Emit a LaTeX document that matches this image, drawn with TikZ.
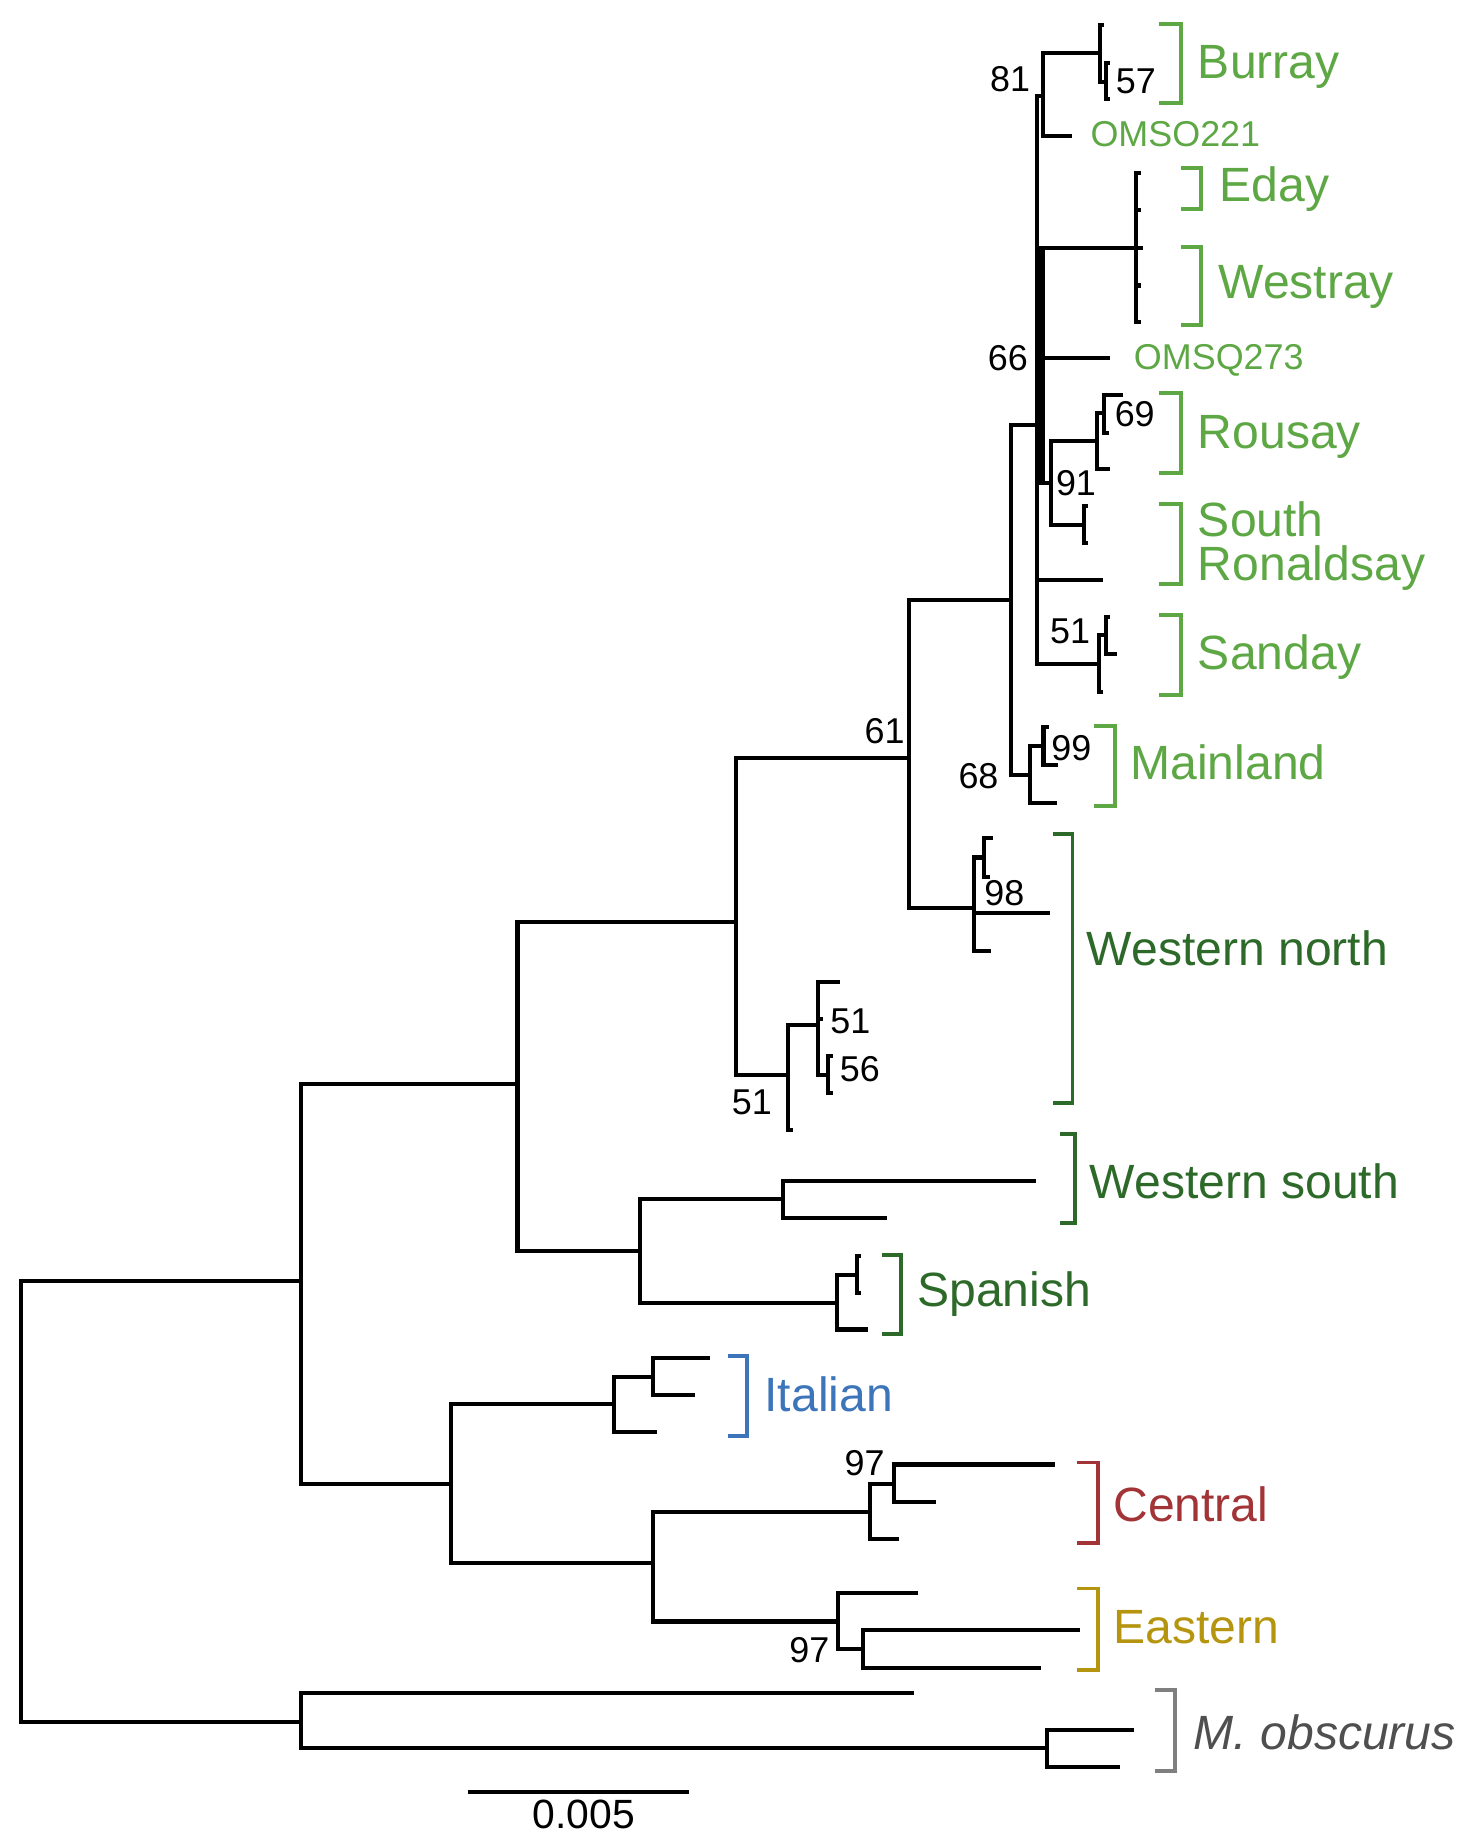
\documentclass[tikz,border=0pt]{standalone}
\usepackage{fontspec}
\setmainfont{Liberation Sans}
\usepackage{tikz}
\usetikzlibrary{positioning}

\definecolor{orkney}{HTML}{5DA744}
\definecolor{western}{HTML}{2D6A2A}
\definecolor{italian}{HTML}{3C75BA}
\definecolor{central}{HTML}{A23437}
\definecolor{eastern}{HTML}{B5950F}
\definecolor{outgrp}{HTML}{7F7F7F}
\definecolor{outtxt}{HTML}{4F4F4F}

\begin{document}
\begin{tikzpicture}[x=0.02cm,y=-0.02cm,
  branch/.style={line width=2pt},
  clade/.style={line width=1.9pt,draw=#1},
  grp/.style={anchor=base west,inner sep=0pt,font=\fontsize{23.3}{24}\selectfont,text=#1},
  tipname/.style={anchor=base west,inner sep=0pt,font=\fontsize{17.4}{18}\selectfont,text=orkney},
  boot/.style={anchor=base,inner sep=0pt,font=\fontsize{17.4}{18}\selectfont}]
\useasboundingbox (0,0) rectangle (1260,1563);

% internal nodes
\coordinate (root) at (17.8,1278);
\coordinate (A) at (256,1090.6);
\coordinate (Mob) at (256,1465.8);
\coordinate (B) at (440.5,923);
\coordinate (C) at (383.7,1263.6);
\coordinate (D) at (626.5,784.7);
\coordinate (E) at (545,1065);
\coordinate (F) at (774,645);
\coordinate (G) at (671,915);
\coordinate (H) at (861,511);
\coordinate (WN) at (829.5,773);
\coordinate (I) at (883,362);
\coordinate (ML) at (877,659.8);
\coordinate (n81) at (887.7,81.7);
\coordinate (Bur) at (936.5,44.8);
\coordinate (Bur2) at (941.3,69.5);
\coordinate (EW) at (967,211);
\coordinate (n91) at (894.8,411.5);
\coordinate (Rou) at (934,375.4);
\coordinate (Rou2) at (940,351.9);
\coordinate (SR) at (922.5,447);
\coordinate (San) at (935.5,565);
\coordinate (San2) at (941.3,540.6);
\coordinate (ML2) at (888.3,634.8);
\coordinate (WN2) at (837.7,730);
\coordinate (G2) at (696.7,872.6);
\coordinate (G3) at (704.6,915.2);
\coordinate (WS) at (666.4,1021);
\coordinate (Sp) at (712.4,1109);
\coordinate (Sp2) at (729.4,1085.7);
\coordinate (It) at (522.6,1195.5);
\coordinate (It2) at (555.7,1171.9);
\coordinate (CE) at (555.7,1330.3);
\coordinate (Ce) at (740.7,1286.8);
\coordinate (Ce2) at (760.9,1263.6);
\coordinate (Ea) at (713.2,1380.4);
\coordinate (Ea2) at (735,1404);
\coordinate (Mo2) at (891,1488.2);
\coordinate (polyTop) at (886,211);
\coordinate (polyBot) at (886,410);

% tips
\coordinate (t221) at (913,115.8);
\coordinate (t273) at (945,305);
\coordinate (tSR3) at (939,493.8);
\coordinate (tB1) at (940,21);
\coordinate (tB2) at (945,53.4);
\coordinate (tB3) at (945,84.6);
\coordinate (tE1) at (971,147.6);
\coordinate (tE2) at (971,179);
\coordinate (tE3) at (973,211);
\coordinate (tE4) at (971,243);
\coordinate (tE5) at (971,274);
\coordinate (tR1) at (956,336.3);
\coordinate (tR2) at (944,368.4);
\coordinate (tR3) at (945,399.6);
\coordinate (tS1) at (926,430.8);
\coordinate (tS2) at (926,462.6);
\coordinate (tSa1) at (945,525);
\coordinate (tSa2) at (951,556.8);
\coordinate (tSa3) at (939,588.9);
\coordinate (tM1) at (893,618.7);
\coordinate (tM2) at (900.5,651.3);
\coordinate (tM3) at (900,683.4);
\coordinate (tW1) at (845,713.7);
\coordinate (tW2) at (843,746.4);
\coordinate (tW3) at (894,777.6);
\coordinate (tW4) at (844,809.4);
\coordinate (tG1) at (715,835.8);
\coordinate (tG2) at (701,867.6);
\coordinate (tG4) at (675,962);
\coordinate (tG5) at (709,899);
\coordinate (tG6) at (709,930.8);
\coordinate (tWS1) at (882,1005.3);
\coordinate (tWS2) at (755.2,1037.1);
\coordinate (tSp1) at (733,1068.9);
\coordinate (tSp2) at (733,1100.8);
\coordinate (tSp3) at (739,1131.8);
\coordinate (tI1) at (604.2,1155.8);
\coordinate (tI2) at (591.3,1187.6);
\coordinate (tI3) at (559,1219.4);
\coordinate (tC1) at (898.2,1246.7);
\coordinate (tC2) at (797.2,1278.6);
\coordinate (tC3) at (765.7,1310.4);
\coordinate (tEa1) at (781.1,1356);
\coordinate (tEa2) at (919.2,1387.9);
\coordinate (tEa3) at (886.1,1420.1);
\coordinate (tO1) at (777.9,1441.3);
\coordinate (tO2) at (965.3,1472.5);
\coordinate (tO3) at (953.1,1504.4);

% branches
\draw[branch] (root) |- (A) (root) |- (Mob);
\draw[branch] (A) |- (B) (A) |- (C);
\draw[branch] (B) |- (D) (B) |- (E);
\draw[branch] (D) |- (F) (D) |- (G);
\draw[branch] (F) |- (H) (F) |- (WN);
\draw[branch] (H) |- (I) (H) |- (ML);
\draw[branch] (I) |- (n81) (I) |- (EW) (I) |- (t273) (I) |- (n91) (I) |- (tSR3) (I) |- (San);
\draw[line width=4.4pt] (polyTop) -- (polyBot);
\draw[branch] (n81) |- (Bur) (n81) |- (t221);
\draw[branch] (Bur) |- (tB1) (Bur) |- (Bur2);
\draw[branch] (Bur2) |- (tB2) (Bur2) |- (tB3);
\draw[branch] (EW) |- (tE1) (EW) |- (tE2) (EW) |- (tE3) (EW) |- (tE4) (EW) |- (tE5);
\draw[branch] (n91) |- (Rou) (n91) |- (SR);
\draw[branch] (Rou) |- (Rou2) (Rou) |- (tR3);
\draw[branch] (Rou2) |- (tR1) (Rou2) |- (tR2);
\draw[branch] (SR) |- (tS1) (SR) |- (tS2);
\draw[branch] (San) |- (San2) (San) |- (tSa3);
\draw[branch] (San2) |- (tSa1) (San2) |- (tSa2);
\draw[branch] (ML) |- (ML2) (ML) |- (tM3);
\draw[branch] (ML2) |- (tM1) (ML2) |- (tM2);
\draw[branch] (WN) |- (WN2) (WN) |- (tW3) (WN) |- (tW4);
\draw[branch] (WN2) |- (tW1) (WN2) |- (tW2);
\draw[branch] (G) |- (G2) (G) |- (tG4);
\draw[branch] (G2) |- (tG1) (G2) |- (tG2) (G2) |- (G3);
\draw[branch] (G3) |- (tG5) (G3) |- (tG6);
\draw[branch] (E) |- (WS) (E) |- (Sp);
\draw[branch] (WS) |- (tWS1) (WS) |- (tWS2);
\draw[branch] (Sp) |- (Sp2) (Sp) |- (tSp3);
\draw[branch] (Sp2) |- (tSp1) (Sp2) |- (tSp2);
\draw[branch] (C) |- (It) (C) |- (CE);
\draw[branch] (It) |- (It2) (It) |- (tI3);
\draw[branch] (It2) |- (tI1) (It2) |- (tI2);
\draw[branch] (CE) |- (Ce) (CE) |- (Ea);
\draw[branch] (Ce) |- (Ce2) (Ce) |- (tC3);
\draw[branch] (Ce2) |- (tC1) (Ce2) |- (tC2);
\draw[branch] (Ea) |- (tEa1) (Ea) |- (Ea2);
\draw[branch] (Ea2) |- (tEa2) (Ea2) |- (tEa3);
\draw[branch] (Mob) |- (tO1) (Mob) |- (Mo2);
\draw[branch] (Mo2) |- (tO2) (Mo2) |- (tO3);

% support values
\node[boot] (b81) at (860,77.5) {81};
\node[boot] (b57) at (967,79.5) {57};
\node[boot] (b66) at (858,315) {66};
\node[boot] (b69) at (966,363) {69};
\node[boot] (b91) at (916,421.5) {91};
\node[boot] (b51a) at (911,547.5) {51};
\node[boot] (b99) at (912,647) {99};
\node[boot] (b68) at (833,671.5) {68};
\node[boot] (b61) at (753,633) {61};
\node[boot] (b98) at (855,770.5) {98};
\node[boot] (b51b) at (724,880) {51};
\node[boot] (b56) at (732,921) {56};
\node[boot] (b51c) at (640,948.5) {51};
\node[boot] (b97a) at (736,1256) {97};
\node[boot] (b97b) at (689,1415.5) {97};

% tip names
\node[tipname] (omso) at (928,125) {OMSO221};
\node[tipname] (omsq) at (965,314.5) {OMSQ273};

% clade brackets
\draw[clade=orkney] (987,20.4) -| (1005.5,88) -- (987,88);
\draw[clade=orkney] (1005,143) -| (1022.6,178) -- (1005,178);
\draw[clade=orkney] (1005,210) -| (1022.6,277) -- (1005,277);
\draw[clade=orkney] (987,334.9) -| (1005.5,403) -- (987,403);
\draw[clade=orkney] (987,429.4) -| (1005.5,497.2) -- (987,497.2);
\draw[clade=orkney] (987,523.6) -| (1005.5,591.7) -- (987,591.7);
\draw[clade=orkney] (930.9,617.8) -| (949,686.2) -- (930.9,686.2);
\draw[clade=western] (896,710) -| (913,939.3) -- (896,939.3);
\draw[clade=western] (902.3,965.4) -| (915.2,1040.9) -- (902.3,1040.9);
\draw[clade=western] (751,1068) -| (767.3,1135.6) -- (751,1135.6);
\draw[clade=italian] (619.5,1154) -| (635.7,1222.4) -- (619.5,1222.4);
\draw[clade=central] (916.8,1245) -| (934.6,1313.4) -- (916.8,1313.4);
\draw[clade=eastern] (916.8,1352.3) -| (934.6,1421.6) -- (916.8,1421.6);
\draw[clade=outgrp] (983,1438.8) -| (1000,1507.8) -- (983,1507.8);

% clade names
\node[grp=orkney] (burray) at (1019.5,66.7) {Burray};
\node[grp=orkney] (eday) at (1038,171.7) {Eday};
\node[grp=orkney] (westray) at (1037,254) {Westray};
\node[grp=orkney] (rousay) at (1019.5,382) {Rousay};
\node[grp=orkney] (south) at (1019.5,457) {South};
\node[grp=orkney] (ronald) at (1019.5,494) {Ronaldsay};
\node[grp=orkney] (sanday) at (1019.5,570) {Sanday};
\node[grp=orkney] (mainland) at (962,664) {Mainland};
\node[grp=western] (wnorth) at (925,821.6) {Western north};
\node[grp=western] (wsouth) at (927.5,1020.3) {Western south};
\node[grp=western] (spanish) at (780.5,1111.9) {Spanish};
\node[grp=italian] (italian) at (650.5,1201.9) {Italian};
\node[grp=central] (centr) at (947.5,1295.4) {Central};
\node[grp=eastern] (eastn) at (947.5,1399) {Eastern};
\node[grp=outtxt,font=\fontsize{23.3}{24}\selectfont\itshape] (mobsc) at (1016,1489) {M. obscurus};

% scale bar
\coordinate (sbl) at (398.2,1525.6);
\coordinate (sbr) at (586.4,1525.6);
\draw[branch] (sbl) -- (sbr);
\node[boot,font=\fontsize{19.8}{20}\selectfont] (sblab) at (497,1556.7) {0.005};
\end{tikzpicture}
\end{document}
